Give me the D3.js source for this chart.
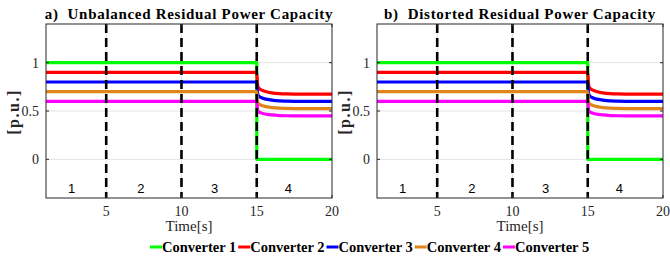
<!DOCTYPE html>
<html><head><meta charset="utf-8">
<script src="https://cdn.jsdelivr.net/npm/d3@7/dist/d3.min.js"></script>
<style>body{margin:0;background:#fff}svg{display:block}</style></head>
<body><svg id="c" width="670" height="256"></svg>
<script>
// ---------- data ----------
const panelTitles = ["a)  Unbalanced Residual Power Capacity", "b)  Distorted Residual Power Capacity"];
const seriesNames = ["Converter 1", "Converter 2", "Converter 3", "Converter 4", "Converter 5"];
const seriesColors = ["#00ff00", "#ff0000", "#0000ff", "#df8519", "#ff00ff"];
const time = [1, 15, 15.05, 15.1, 15.2, 15.4, 15.7, 16, 16.5, 17, 18, 20];
const conv1Time = [1, 15, 15, 20];
const conv1 = [1, 1, 0, 0];
const conv2 = [0.9, 0.9, 0.78, 0.745, 0.728, 0.712, 0.697, 0.688, 0.68, 0.677, 0.675, 0.675];
const conv3 = [0.8, 0.8, 0.693, 0.662, 0.647, 0.633, 0.62, 0.612, 0.604, 0.602, 0.6, 0.6];
const conv4 = [0.7, 0.7, 0.607, 0.579, 0.566, 0.554, 0.542, 0.535, 0.529, 0.527, 0.525, 0.525];
const conv5 = [0.6, 0.6, 0.52, 0.497, 0.485, 0.475, 0.465, 0.459, 0.453, 0.451, 0.45, 0.45];
const xTicks = [5, 10, 15, 20];
const yTicks = [0, 0.5, 1];
const yTickLabels = ["0", "0.5", "1"];
const eventTimes = [5, 10, 15];
const regionLabels = ["1", "2", "3", "4"];
const regionLabelX = [2.7, 7.3, 12.2, 17.1];

// ---------- layout ----------
const svg = d3.select("#c");
const serif = "'Liberation Serif','Times New Roman',serif";
const sans = "'Liberation Sans',Arial,sans-serif";
const panels = [{x0: 46, x1: 332}, {x0: 377, x1: 663}];
const yTop = 24, yBot = 198;

const seriesData = [
  conv1Time.map((t, i) => [t, conv1[i]]),
  time.map((t, i) => [t, conv2[i]]),
  time.map((t, i) => [t, conv3[i]]),
  time.map((t, i) => [t, conv4[i]]),
  time.map((t, i) => [t, conv5[i]])
];

panels.forEach((p, pi) => {
  const x = d3.scaleLinear().domain([1, 20]).range([p.x0, p.x1]);
  const y = d3.scaleLinear().domain([-0.4, 1.4]).range([yBot, yTop]);
  const g = svg.append("g");
  const clipId = "clip" + pi;
  g.append("clipPath").attr("id", clipId).append("rect")
    .attr("x", p.x0).attr("y", yTop).attr("width", p.x1 - p.x0).attr("height", yBot - yTop);

  // grid
  g.append("g").selectAll("line").data(yTicks).join("line")
    .attr("x1", p.x0).attr("x2", p.x1).attr("y1", d => y(d)).attr("y2", d => y(d))
    .attr("stroke", "#e3e3e3").attr("stroke-width", 1);
  g.append("g").selectAll("line").data(xTicks.slice(0, 3)).join("line")
    .attr("x1", d => x(d)).attr("x2", d => x(d)).attr("y1", yTop).attr("y2", yBot)
    .attr("stroke", "#e3e3e3").attr("stroke-width", 1);

  // series
  const line = d3.line().x(d => x(d[0])).y(d => y(d[1])).curve(d3.curveMonotoneX);
  const lineStep = d3.line().x(d => x(d[0])).y(d => y(d[1]));
  const sg = g.append("g").attr("clip-path", `url(#${clipId})`);
  seriesData.forEach((d, i) => {
    sg.append("path").attr("d", (i === 0 ? lineStep : line)(d))
      .attr("fill", "none").attr("stroke", seriesColors[i]).attr("stroke-width", 3.2)
      .attr("stroke-linejoin", "round");
  });

  // event lines
  g.append("g").selectAll("line").data(eventTimes).join("line")
    .attr("x1", d => x(d)).attr("x2", d => x(d)).attr("y1", yTop).attr("y2", yBot)
    .attr("stroke", "#000").attr("stroke-width", 2.6).attr("stroke-dasharray", "9,5");

  // region labels
  g.append("g").selectAll("text").data(regionLabels).join("text")
    .attr("x", (d, i) => x(regionLabelX[i])).attr("y", 193)
    .attr("text-anchor", "middle").attr("font-family", sans).attr("font-size", 13)
    .text(d => d);

  // box
  g.append("rect").attr("x", p.x0).attr("y", yTop).attr("width", p.x1 - p.x0).attr("height", yBot - yTop)
    .attr("fill", "none").attr("stroke", "#262626").attr("stroke-width", 1);

  // ticks (inward, all sides)
  const tl = 3;
  yTicks.forEach(v => {
    g.append("line").attr("x1", p.x0).attr("x2", p.x0 + tl).attr("y1", y(v)).attr("y2", y(v)).attr("stroke", "#262626");
    g.append("line").attr("x1", p.x1).attr("x2", p.x1 - tl).attr("y1", y(v)).attr("y2", y(v)).attr("stroke", "#262626");
  });
  xTicks.forEach(v => {
    g.append("line").attr("x1", x(v)).attr("x2", x(v)).attr("y1", yBot).attr("y2", yBot - tl).attr("stroke", "#262626");
    g.append("line").attr("x1", x(v)).attr("x2", x(v)).attr("y1", yTop).attr("y2", yTop + tl).attr("stroke", "#262626");
  });

  // tick labels
  g.append("g").selectAll("text").data(yTicks).join("text")
    .attr("x", p.x0 - 7).attr("y", d => y(d)).attr("dy", "0.35em")
    .attr("text-anchor", "end").attr("font-family", serif).attr("font-size", 14).attr("fill", "#262626")
    .text((d, i) => yTickLabels[i]);
  g.append("g").selectAll("text").data(xTicks).join("text")
    .attr("x", d => x(d)).attr("y", 216)
    .attr("text-anchor", "middle").attr("font-family", serif).attr("font-size", 14).attr("fill", "#262626")
    .text(d => d);

  // axis labels
  g.append("text").attr("x", (p.x0 + p.x1) / 2).attr("y", 231)
    .attr("text-anchor", "middle").attr("font-family", serif).attr("font-size", 15).attr("fill", "#262626")
    .text("Time[s]");
  g.append("text").attr("transform", `translate(${p.x0 - 27},${(yTop + yBot) / 2 + 1}) rotate(-90)`)
    .attr("text-anchor", "middle").attr("font-family", serif).attr("font-weight", "bold")
    .attr("font-size", 16).attr("letter-spacing", 1.5).attr("fill", "#262626")
    .text("[p.u.]");

  // title
  g.append("text").attr("x", (p.x0 + p.x1) / 2).attr("y", 18.5)
    .attr("text-anchor", "middle").attr("font-family", serif).attr("font-weight", "bold")
    .attr("font-size", 15).attr("letter-spacing", 0.7).style("white-space", "pre")
    .text(panelTitles[pi]);
});

// legend
const lg = svg.append("g");
let cx = 0;
const items = [];
seriesNames.forEach((n, i) => {
  const it = lg.append("g");
  it.append("line").attr("x1", 0).attr("x2", 12).attr("y1", 0).attr("y2", 0)
    .attr("stroke", seriesColors[i]).attr("stroke-width", 3);
  const t = it.append("text").attr("x", 12).attr("y", 0).attr("dy", "0.33em")
    .attr("font-family", serif).attr("font-weight", "bold").attr("font-size", 14.5).text(n);
  const w = 12 + t.node().getComputedTextLength();
  it.attr("transform", `translate(${cx},0)`);
  cx += w + 2;
});
const totalW = cx - 2;
lg.attr("transform", `translate(${150},247)`);
</script>
</body></html>
